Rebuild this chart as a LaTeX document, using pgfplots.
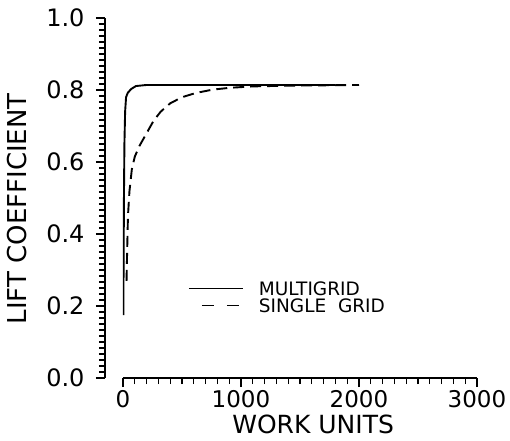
\documentclass[border=0pt]{standalone}
\usepackage{fontspec}
\setmainfont{DejaVu Sans}
\usepackage{pgfplots}
\pgfplotsset{compat=1.18}
\pgfplotsset{
  solidleg/.style={legend image code/.code={\draw[##1] (0pt,0pt) -- (54pt,0pt);}},
  dashleg/.style={legend image code/.code={\draw[##1, dash pattern=on 12pt off 13pt] (13pt,0pt) -- (54pt,0pt);}},
}
\begin{document}
\begin{tikzpicture}
\begin{axis}[
  at={(0pt,0pt)}, anchor=south west,
  scale only axis, width=354pt, height=360pt,
  xmin=0, xmax=3000, ymin=0, ymax=1,
  axis lines=left, axis line style={-, line width=1.6pt},
  axis y line shift=18pt,
  tick align=outside,
  xtick={0,1000,2000,3000}, minor x tick num=9,
  ytick={0,0.2,0.4,0.6,0.8,1.0}, minor y tick num=11,
  major tick length=9pt, minor tick length=6pt,
  tick style={black, line width=1.3pt},
  /pgf/number format/assume math mode=true,
  /pgf/number format/1000 sep={},
  yticklabel style={font=\fontsize{24}{26}\selectfont, xshift=-8pt,
    /pgf/number format/.cd, fixed, fixed zerofill, precision=1},
  xticklabel style={font=\fontsize{23}{25}\selectfont},
  xlabel={WORK UNITS}, ylabel={LIFT COEFFICIENT},
  xlabel style={font=\fontsize{25}{28}\selectfont, at={(axis description cs:0.537,-0.128)}, anchor=center},
  ylabel style={font=\fontsize{26}{28}\selectfont, at={(axis description cs:-0.30,0.47)}, anchor=center},
  legend style={draw=none, fill=none, inner sep=0pt, outer sep=0pt,
    at={(axis cs:551,0.225)}, anchor=west,
    font=\fontsize{18.5}{18}\selectfont, row sep=4pt,
    nodes={inner sep=0pt, text height=13pt, text depth=0pt},
    /tikz/every odd column/.append style={column sep=15pt}},
  legend cell align=left,
]
\addplot[black, line width=1.9pt, line join=round, solidleg] coordinates {
  (3,0.175) (5,0.30) (8,0.50) (12,0.65) (18,0.74) (26,0.780) (40,0.792) (70,0.803)
  (110,0.811) (200,0.814) (1000,0.814) (1800,0.814)
};
\addlegendentry{MULTIGRID}
\addplot[black, line width=1.9pt, dash pattern=on 11pt off 6pt, dashleg] coordinates {
  (30,0.27) (35,0.35) (42,0.45) (55,0.52) (75,0.58) (100,0.615) (140,0.645)
  (200,0.680) (260,0.715) (320,0.740) (400,0.763) (500,0.780) (620,0.792)
  (760,0.801) (900,0.806) (1100,0.810) (1400,0.812) (2000,0.814)
};
\addlegendentry{SINGLE\ \ GRID}
\end{axis}
\pgfresetboundingbox
\path[use as bounding box] (-123pt,-62pt) rectangle (387pt,378pt);
\end{tikzpicture}
\end{document}
